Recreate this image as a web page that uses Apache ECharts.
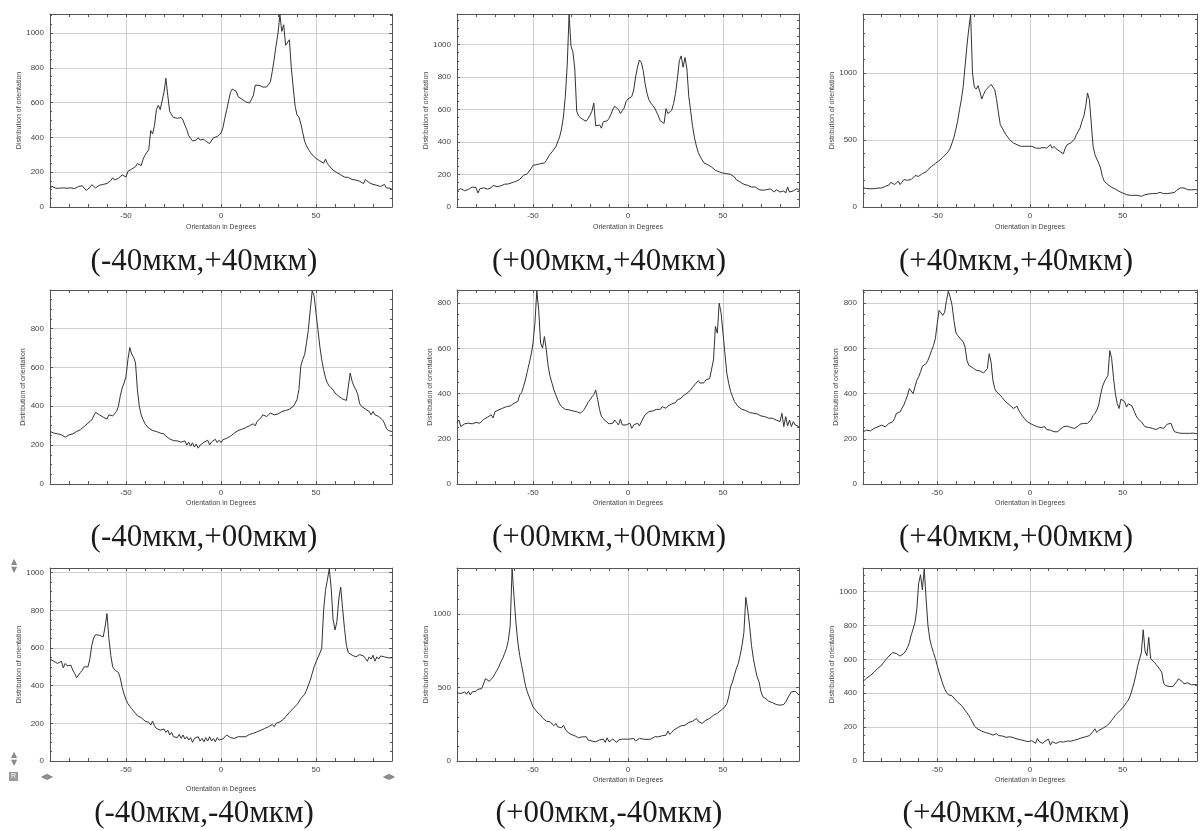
<!DOCTYPE html>
<html>
<head>
<meta charset="utf-8">
<script src="https://cdn.jsdelivr.net/npm/echarts@6/dist/echarts.min.js"></script>
<style>
html,body{margin:0;padding:0;background:#fff;}
#chart{width:1200px;height:831px;}
</style>
</head>
<body>
<div id="chart"></div>
<script>
// Orientation angles (degrees), one sample per degree
const angles = [
-90,-89,-88,-87,-86,-85,-84,-83,-82,-81,
-80,-79,-78,-77,-76,-75,-74,-73,-72,-71,
-70,-69,-68,-67,-66,-65,-64,-63,-62,-61,
-60,-59,-58,-57,-56,-55,-54,-53,-52,-51,
-50,-49,-48,-47,-46,-45,-44,-43,-42,-41,
-40,-39,-38,-37,-36,-35,-34,-33,-32,-31,
-30,-29,-28,-27,-26,-25,-24,-23,-22,-21,
-20,-19,-18,-17,-16,-15,-14,-13,-12,-11,
-10,-9,-8,-7,-6,-5,-4,-3,-2,-1,
0,1,2,3,4,5,6,7,8,9,
10,11,12,13,14,15,16,17,18,19,
20,21,22,23,24,25,26,27,28,29,
30,31,32,33,34,35,36,37,38,39,
40,41,42,43,44,45,46,47,48,49,
50,51,52,53,54,55,56,57,58,59,
60,61,62,63,64,65,66,67,68,69,
70,71,72,73,74,75,76,77,78,79,
80,81,82,83,84,85,86,87,88,89,90];

const xTickLabels = [-50, 0, 50];

// (-40мкм,+40мкм)
const dist_m40_p40 = [
105,120,130,108,110,108,112,110,106,108,
104,110,108,106,112,118,110,122,112,95,
88,112,128,120,110,118,125,122,130,128,
135,145,152,168,155,150,165,170,185,178,
172,205,212,218,225,232,250,255,238,275,
298,300,330,440,420,470,560,585,560,610,
660,740,640,550,530,515,505,510,520,515,
500,470,445,410,395,380,390,385,398,385,
385,390,378,382,365,370,398,392,405,412,
425,455,510,560,610,660,678,677,665,635,
628,620,612,605,600,598,595,640,700,705,
700,695,690,698,690,682,720,780,850,930,
1000,1106,1010,1048,930,925,962,800,690,580,
530,518,480,430,378,352,332,315,300,292,
280,273,265,258,252,275,250,236,234,212,
205,198,192,185,178,172,168,170,162,158,
158,155,150,148,155,135,158,148,140,138,
130,128,125,122,118,112,130,110,105,108,100];

// (+00мкм,+40мкм)
const dist_p00_p40 = [
99,104,113,106,100,99,108,115,123,120,
119,86,112,123,118,119,110,99,118,133,
128,125,123,130,135,140,138,142,144,150,
154,158,164,170,180,195,192,205,215,236,
257,260,261,263,267,268,271,285,308,325,
339,355,370,400,431,480,554,680,870,1185,
990,955,850,590,560,548,540,530,528,545,
565,590,640,500,490,505,485,525,522,530,
545,570,600,620,625,600,575,570,610,650,
665,668,680,720,800,860,905,890,840,760,
700,660,640,625,610,600,560,530,525,515,
605,575,575,595,637,698,790,900,930,860,
920,850,680,590,495,425,375,335,310,290,
271,267,261,253,246,236,226,216,216,226,
209,201,205,195,201,195,185,168,160,154,
148,140,133,133,127,123,119,123,113,107,
113,103,113,107,99,111,103,92,107,103,
92,103,99,86,123,92,103,99,107,113,103];

// (+40мкм,+40мкм)
const dist_p40_p40 = [
142,140,138,140,136,134,137,139,141,142,
142,148,154,150,165,184,175,167,180,192,
167,185,204,195,200,199,205,209,234,225,
229,238,249,255,262,279,290,303,312,325,
336,345,358,370,383,398,415,440,478,520,
577,640,726,800,900,1050,1200,1330,1435,1000,
895,880,905,860,805,840,870,885,900,915,
925,875,801,701,614,590,565,540,522,502,
490,478,473,465,460,453,448,453,443,453,
440,453,445,440,453,438,448,443,453,440,
453,465,438,453,435,423,415,415,398,440,
465,473,478,473,507,540,565,590,639,677,
751,851,801,627,453,390,358,328,291,229,
192,179,167,154,147,142,134,124,117,109,
104,97,92,90,87,85,87,85,87,82,
80,85,92,90,97,95,100,104,100,107,
109,104,100,104,100,97,104,100,109,124,
134,142,154,142,134,129,130,128,125,130,128];

// (-40мкм,+00мкм)
const dist_m40_p00 = [
270,268,262,260,258,255,253,248,241,246,
253,256,258,262,270,275,279,288,296,305,
313,320,330,350,368,373,356,350,344,338,
334,356,347,350,356,373,399,454,494,520,
554,640,702,668,651,623,485,399,356,330,
310,298,287,280,275,272,270,266,262,260,
258,246,236,232,227,223,219,222,224,215,
207,222,200,215,195,212,190,205,184,200,
201,215,210,225,201,216,210,230,213,225,
213,228,227,235,231,246,241,262,258,275,
270,282,275,290,282,300,296,310,299,322,
322,340,356,350,347,356,365,360,356,358,
360,366,373,375,378,382,385,392,399,415,
434,485,606,640,665,726,795,898,993,968,
881,795,709,640,589,546,520,503,494,485,
468,460,451,442,437,434,430,434,571,528,
503,485,460,413,399,390,385,378,373,356,
373,356,365,347,347,330,313,287,275,270,270];

// (+00мкм,+00мкм)
const dist_p00_p00 = [
272,283,254,262,266,270,269,265,266,270,
272,268,269,275,286,290,295,300,306,292,
320,324,328,332,335,338,342,343,345,350,
357,360,365,394,404,431,460,497,534,571,
623,711,855,770,623,601,652,593,520,475,
446,416,394,372,354,342,335,330,328,328,
325,323,320,320,316,313,320,330,345,362,
372,385,395,416,375,330,300,290,280,276,
266,272,269,283,272,261,287,261,254,261,
254,269,246,261,254,269,257,261,291,306,
298,320,313,323,328,330,335,330,342,339,
335,345,350,354,357,360,372,375,379,390,
390,401,409,416,428,438,446,457,446,438,
448,460,463,467,475,549,697,667,800,756,
667,579,490,446,409,387,365,357,342,335,
330,328,325,320,316,313,313,306,310,306,
301,298,298,295,291,295,291,286,283,280,
276,313,254,298,257,283,254,276,261,269,254];

// (+40мкм,+00мкм)
const dist_p40_p00 = [
231,235,238,236,235,240,246,250,253,256,
260,256,253,258,268,272,275,290,312,316,
319,335,349,370,393,422,415,400,400,459,
474,496,521,525,532,547,569,591,613,643,
709,768,775,746,760,812,853,826,790,724,
672,657,650,638,628,606,547,525,525,515,
510,503,506,500,496,491,488,510,576,540,
459,422,407,400,393,382,374,363,356,349,
341,334,334,344,324,312,300,290,279,275,
268,265,260,256,253,256,250,246,253,241,
246,238,235,231,238,231,241,246,253,250,
256,253,250,253,246,253,256,265,260,268,
271,268,275,285,303,312,327,349,393,429,
451,466,480,590,555,470,400,356,334,375,
378,365,340,355,362,345,325,305,290,282,
275,268,253,260,250,256,246,253,241,246,
250,253,246,253,265,271,268,246,231,224,
226,221,224,226,224,226,224,231,225,228,222];

// (-40мкм,-40мкм)
const dist_m40_m40 = [
541,535,530,524,518,509,530,495,518,505,
495,509,482,465,442,452,470,482,500,509,
500,544,615,654,671,677,668,668,659,712,
783,650,560,500,485,482,470,440,390,355,
325,305,290,278,265,253,240,235,230,223,
212,208,205,191,212,187,173,182,164,155,
170,152,164,138,152,129,138,124,141,120,
138,117,129,111,124,99,120,111,129,106,
120,102,124,106,129,106,120,102,124,111,
106,117,124,138,129,124,129,120,124,129,
120,129,138,129,138,141,138,147,152,155,
159,163,159,173,164,182,177,194,182,200,
191,208,200,223,235,244,258,261,279,288,
300,314,332,336,353,376,403,429,465,500,
526,548,553,597,800,906,898,1021,915,750,
696,740,860,924,809,703,615,575,565,562,
558,553,558,565,562,558,544,530,553,541,
562,530,553,541,558,548,553,544,548,544,548];

// (+00мкм,-40мкм)
const dist_p00_m40 = [
466,462,459,465,471,455,475,450,471,482,
475,489,482,493,505,561,566,543,557,572,
595,618,640,674,697,731,765,821,920,1310,
1120,946,810,719,652,584,516,471,437,403,
369,353,335,324,312,294,290,271,278,267,
267,240,256,233,244,226,244,217,199,188,
181,176,172,165,158,149,165,154,165,143,
154,136,149,131,120,143,131,149,127,158,
131,143,149,136,127,143,154,149,143,149,
143,149,140,154,136,143,154,143,149,154,
147,158,149,154,165,158,165,158,172,165,
176,204,181,195,210,204,226,221,240,233,
244,249,262,256,271,278,290,271,278,256,
267,278,285,290,301,312,317,324,335,346,
357,369,391,437,505,538,584,629,663,719,
787,876,1115,1030,921,787,697,629,572,538,
471,437,425,421,407,403,398,391,385,391,
380,391,385,403,414,450,471,466,475,482,450];

// (+40мкм,-40мкм)
const dist_p40_m40 = [
470,478,490,495,505,512,525,535,548,555,
565,580,595,608,620,630,640,642,635,625,
620,625,635,650,670,700,745,780,818,896,
1050,1100,1010,1135,960,800,720,675,640,605,
564,525,490,455,427,405,391,390,385,372,
360,348,338,329,315,299,285,270,250,231,
207,198,188,182,176,172,168,165,162,157,
153,158,162,150,143,148,153,140,137,143,
133,138,137,130,123,125,123,120,117,114,
114,120,123,104,133,114,110,104,117,122,
129,94,114,110,104,112,114,117,112,110,
118,123,117,120,123,126,129,133,138,143,
143,143,150,158,175,190,168,180,188,192,
200,205,212,225,240,255,270,282,292,302,
315,330,345,360,385,420,460,505,560,600,
640,775,650,622,730,605,595,583,570,556,
540,525,460,446,442,440,436,440,446,468,
485,478,470,456,460,462,455,450,455,452,450];

const captions = [
  '(-40мкм,+40мкм)', '(+00мкм,+40мкм)', '(+40мкм,+40мкм)',
  '(-40мкм,+00мкм)', '(+00мкм,+00мкм)', '(+40мкм,+00мкм)',
  '(-40мкм,-40мкм)', '(+00мкм,-40мкм)', '(+40мкм,-40мкм)'
];
const seriesData = [
  dist_m40_p40, dist_p00_p40, dist_p40_p40,
  dist_m40_p00, dist_p00_p00, dist_p40_p00,
  dist_m40_m40, dist_p00_m40, dist_p40_m40
];
const yMax  = [1110, 1188, 1440, 998, 858, 858, 1025, 1315, 1140];
const yStep = [200, 200, 500, 200, 200, 200, 200, 500, 200];

const xAxisName = 'Orientation in Degrees';
const yAxisName = 'Distribution of orientation';

// ---- layout / style ----
const colLeft = [50, 457, 863];
const plotW = 342;
const rowTop = [14, 290, 568];
const plotH = [193, 194, 193];
const xNameGap = [17, 17, 17, 16, 16, 16, 25, 16, 16];
const capX = [204, 609, 1016];
const capY = [262, 538, 814];
const frameColor = '#555';
const gridColor = '#cfcfcf';
const lineColor = '#333';
const labelColor = '#444';
const sansFont = 'Liberation Sans, Arial, sans-serif';

const grid = [], xAxis = [], yAxis = [], series = [], graphic = [];

seriesData.forEach((vals, i) => {
  const r = Math.floor(i / 3), c = i % 3;
  grid.push({left: colLeft[c], top: rowTop[r], width: plotW, height: plotH[r], containLabel: false});
  const xBase = {type: 'value', gridIndex: i, min: -90, max: 90};
  // bottom axis: ticks every 10, labels at -50, 0, 50
  xAxis.push(Object.assign({}, xBase, {
    position: 'bottom', interval: 10,
    axisLine: {show: true, onZero: false, lineStyle: {color: frameColor, width: 1}},
    axisTick: {show: true, inside: true, length: 3, lineStyle: {color: frameColor}},
    axisLabel: {formatter: v => (xTickLabels.indexOf(v) >= 0 ? String(v) : ''), fontSize: 8, color: labelColor, margin: 5, fontFamily: sansFont},
    splitLine: {show: false},
    name: xAxisName, nameLocation: 'middle', nameGap: xNameGap[i],
    nameTextStyle: {fontSize: 7, color: labelColor, fontFamily: sansFont}
  }));
  // top frame axis
  xAxis.push(Object.assign({}, xBase, {
    position: 'top', interval: 10,
    axisLine: {show: true, onZero: false, lineStyle: {color: frameColor, width: 1}},
    axisTick: {show: true, inside: true, length: 3, lineStyle: {color: frameColor}},
    axisLabel: {show: false}, splitLine: {show: false}
  }));
  // vertical grid lines at labelled values
  xAxis.push(Object.assign({}, xBase, {
    position: 'bottom',
    axisLine: {show: false},
    axisTick: {show: false, customValues: xTickLabels},
    axisLabel: {show: false, customValues: xTickLabels},
    splitLine: {show: true, lineStyle: {color: gridColor, width: 1}}
  }));
  const yBase = {type: 'value', gridIndex: i, min: 0, max: yMax[i], interval: yStep[i]};
  const minorN = yStep[i] === 500 ? 5 : 4;
  yAxis.push(Object.assign({}, yBase, {
    position: 'left',
    axisLine: {show: true, onZero: false, lineStyle: {color: frameColor, width: 1}},
    axisTick: {show: true, inside: true, length: 3, lineStyle: {color: frameColor}},
    minorTick: {show: true, splitNumber: minorN, length: 2, lineStyle: {color: frameColor}},
    axisLabel: {formatter: v => String(v), fontSize: 8, color: labelColor, margin: 6, showMaxLabel: false, fontFamily: sansFont},
    splitLine: {show: true, lineStyle: {color: gridColor, width: 1}},
    name: yAxisName, nameLocation: 'middle', nameGap: 22,
    nameTextStyle: {fontSize: 7, color: labelColor, fontFamily: sansFont}
  }));
  yAxis.push(Object.assign({}, yBase, {
    position: 'right',
    axisLine: {show: true, onZero: false, lineStyle: {color: frameColor, width: 1}},
    axisTick: {show: true, inside: true, length: 3, lineStyle: {color: frameColor}},
    minorTick: {show: true, splitNumber: minorN, length: 2, lineStyle: {color: frameColor}},
    axisLabel: {show: false}, splitLine: {show: false}
  }));
  series.push({
    type: 'line', xAxisIndex: i * 3, yAxisIndex: i * 2,
    data: angles.map((a, k) => [a, vals[k]]),
    showSymbol: false, symbol: 'none', clip: true,
    lineStyle: {width: 1, color: lineColor}, animation: false
  });
  graphic.push({
    type: 'text', x: capX[c], y: capY[r], silent: true,
    style: {text: captions[i], fontSize: 31, fontFamily: 'Liberation Serif, Times New Roman, serif',
      fill: '#1a1a1a', textAlign: 'center', textVerticalAlign: 'middle'}
  });
  if (vals.length !== angles.length) {
    graphic.push({type: 'text', x: colLeft[c] + 10, y: rowTop[r] + 10,
      style: {text: 'LEN ' + vals.length, fontSize: 14, fill: 'red'}});
  }
});

// small viewer controls visible in the lower-left panel of the screenshot
const iconStyle = {fill: '#8a8a8a', fontSize: 8, fontFamily: 'DejaVu Sans, sans-serif', textAlign: 'center', textVerticalAlign: 'middle'};
[[14, 562, '▲'], [14, 570, '▼'], [14, 755, '▲'], [14, 763, '▼'], [47, 777, '◀▶'], [389, 777, '◀▶']].forEach(t => {
  graphic.push({type: 'text', x: t[0], y: t[1], silent: true, style: Object.assign({}, iconStyle, {text: t[2]})});
});
graphic.push({type: 'rect', shape: {x: 9, y: 772, width: 9, height: 9}, style: {fill: '#9a9a9a'}, silent: true});
graphic.push({type: 'text', x: 13.5, y: 776.5, silent: true, style: {text: 'R', fill: '#fff', fontSize: 7, fontFamily: sansFont, textAlign: 'center', textVerticalAlign: 'middle'}});

const chart = echarts.init(document.getElementById('chart'), null, {renderer: 'canvas'});
chart.setOption({
  animation: false,
  backgroundColor: '#fff',
  grid: grid, xAxis: xAxis, yAxis: yAxis, series: series, graphic: graphic
});
</script>
</body>
</html>
